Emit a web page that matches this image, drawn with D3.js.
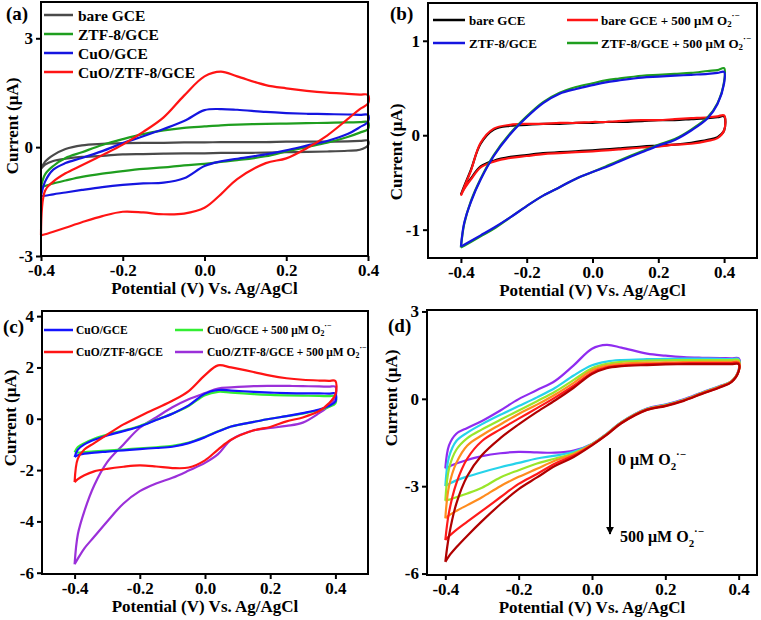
<!DOCTYPE html>
<html><head><meta charset="utf-8">
<script src="https://cdn.jsdelivr.net/npm/d3@7"></script>
<style>
body{margin:0;background:#fff}
text{font-family:"Liberation Serif","Times New Roman","DejaVu Serif",serif;font-weight:bold;fill:#000}
</style>
</head><body>
<svg id="fig" width="761" height="620"></svg>
<script>
// ---------------- DATA ----------------
// common potential grid (V vs Ag/AgCl); forward (anodic) and reverse (cathodic) branches
const potential = [-0.4,-0.39,-0.37,-0.34,-0.3,-0.25,-0.2,-0.15,-0.1,-0.05,0,0.04,0.08,0.15,0.2,0.25,0.3,0.35,0.38,0.4];
const xTickValues = [-0.4,-0.2,0,0.2,0.4];
const xTickLabels = ["-0.4","-0.2","0.0","0.2","0.4"];

// panel (a)
const aLabels = ["bare GCE","ZTF-8/GCE","CuO/GCE","CuO/ZTF-8/GCE"];
const aBareFwd = [-0.6,-0.4,-0.22,-0.05,0.05,0.09,0.11,0.12,0.12,0.13,0.13,0.14,0.14,0.14,0.15,0.15,0.15,0.16,0.17,0.18];
const aBareRev = [-0.6,-0.48,-0.38,-0.32,-0.27,-0.24,-0.2,-0.19,-0.18,-0.17,-0.17,-0.16,-0.16,-0.15,-0.14,-0.13,-0.12,-0.1,-0.07,0.05];
const aZtfFwd = [-1.1,-0.75,-0.52,-0.3,-0.14,0.06,0.22,0.36,0.46,0.53,0.57,0.6,0.62,0.64,0.65,0.66,0.67,0.68,0.69,0.69];
const aZtfRev = [-1.1,-1.07,-1.0,-0.92,-0.82,-0.73,-0.66,-0.6,-0.56,-0.5,-0.46,-0.41,-0.36,-0.25,-0.12,0.0,0.12,0.28,0.4,0.5];
const aCuoFwd = [-1.35,-0.95,-0.62,-0.44,-0.3,-0.11,0.11,0.3,0.5,0.72,1.02,1.05,1.03,0.97,0.94,0.92,0.91,0.9,0.89,0.89];
const aCuoRev = [-1.35,-1.34,-1.3,-1.25,-1.18,-1.1,-1.04,-1.0,-0.98,-0.86,-0.52,-0.39,-0.32,-0.2,-0.09,0.04,0.17,0.36,0.55,0.7];
const aCuoZtfFwd = [-2.43,-1.2,-0.95,-0.72,-0.5,-0.22,0.07,0.42,0.82,1.42,1.95,2.08,1.95,1.71,1.62,1.55,1.5,1.47,1.45,1.44];
const aCuoZtfRev = [-2.43,-2.4,-2.33,-2.22,-2.07,-1.9,-1.78,-1.8,-1.85,-1.83,-1.67,-1.3,-0.88,-0.44,-0.31,-0.03,0.32,0.77,1.05,1.2];
const aYTicks = [-3,0,3];

// panel (b)
const bLabels = ["bare GCE","bare GCE + 500 μM O₂·⁻","ZTF-8/GCE","ZTF-8/GCE + 500 μM O₂·⁻"];
const bBareFwd = [-0.63,-0.54,-0.37,-0.09,0.06,0.1,0.11,0.12,0.12,0.13,0.13,0.14,0.14,0.15,0.16,0.16,0.17,0.18,0.19,0.2];
const bBareRev = [-0.63,-0.56,-0.46,-0.33,-0.27,-0.23,-0.21,-0.19,-0.18,-0.17,-0.16,-0.15,-0.14,-0.12,-0.11,-0.1,-0.08,-0.05,-0.02,0.05];
const bBareO2Fwd = [-0.64,-0.55,-0.38,-0.08,0.07,0.11,0.12,0.12,0.13,0.13,0.14,0.14,0.15,0.16,0.16,0.17,0.18,0.19,0.2,0.21];
const bBareO2Rev = [-0.64,-0.57,-0.47,-0.34,-0.28,-0.24,-0.22,-0.2,-0.19,-0.18,-0.17,-0.16,-0.15,-0.13,-0.12,-0.1,-0.09,-0.06,-0.03,0.05];
const bZtfFwd = [-1.18,-0.93,-0.71,-0.47,-0.22,0.01,0.19,0.34,0.44,0.49,0.53,0.56,0.58,0.61,0.62,0.63,0.64,0.65,0.66,0.67];
const bZtfRev = [-1.18,-1.16,-1.12,-1.06,-0.98,-0.87,-0.75,-0.64,-0.55,-0.46,-0.39,-0.34,-0.28,-0.18,-0.11,-0.05,0.05,0.18,0.33,0.55];
const bZtfO2Fwd = [-1.19,-0.94,-0.7,-0.46,-0.21,0.02,0.2,0.35,0.45,0.51,0.55,0.58,0.6,0.63,0.64,0.65,0.66,0.68,0.69,0.71];
const bZtfO2Rev = [-1.19,-1.17,-1.13,-1.07,-0.99,-0.87,-0.75,-0.64,-0.55,-0.46,-0.39,-0.33,-0.27,-0.17,-0.1,-0.04,0.06,0.19,0.34,0.57];
const bYTicks = [-1,0,1];

// panel (c)
const cLabels = ["CuO/GCE","CuO/GCE + 500 μM O₂·⁻","CuO/ZTF-8/GCE","CuO/ZTF-8/GCE + 500 μM O₂·⁻"];
const cCuoFwd = [-1.49,-1.2,-1.0,-0.82,-0.65,-0.48,-0.3,-0.05,0.2,0.52,0.98,1.12,1.1,1.05,1.02,1.0,0.99,0.99,0.98,0.98];
const cCuoRev = [-1.49,-1.42,-1.36,-1.32,-1.28,-1.23,-1.18,-1.14,-1.09,-0.95,-0.72,-0.5,-0.3,-0.12,0.0,0.1,0.22,0.36,0.5,0.67];
const cCuoO2Fwd = [-1.3,-1.1,-0.95,-0.78,-0.62,-0.46,-0.28,-0.04,0.2,0.5,0.92,1.05,1.02,0.96,0.93,0.91,0.9,0.89,0.88,0.88];
const cCuoO2Rev = [-1.3,-1.32,-1.3,-1.27,-1.24,-1.2,-1.15,-1.11,-1.06,-0.93,-0.7,-0.49,-0.3,-0.12,0.0,0.1,0.2,0.34,0.46,0.6];
const cCuoZtfFwd = [-2.47,-1.55,-1.2,-0.95,-0.62,-0.22,0.1,0.4,0.7,1.08,1.7,2.08,2.0,1.82,1.68,1.58,1.52,1.49,1.48,1.47];
const cCuoZtfRev = [-2.47,-2.35,-2.2,-2.05,-1.95,-1.87,-1.82,-1.86,-1.92,-1.9,-1.62,-1.2,-0.82,-0.45,-0.32,-0.1,0.05,0.3,0.6,0.95];
const cCuoZtfO2Fwd = [-5.67,-4.5,-3.6,-2.6,-1.69,-1.0,-0.35,0.05,0.45,0.76,1.0,1.18,1.22,1.27,1.28,1.28,1.27,1.26,1.25,1.25];
const cCuoZtfO2Rev = [-5.67,-5.45,-5.05,-4.6,-4.0,-3.3,-2.82,-2.52,-2.3,-2.02,-1.72,-1.38,-0.82,-0.45,-0.36,-0.28,-0.15,0.22,0.5,0.85];
const cYTicks = [-6,-4,-2,0,2,4];

// panel (d): 0 → 500 μM O2·−
const dConcLabels = ["0 μM O₂·⁻","500 μM O₂·⁻"];
const d0Fwd = [-2.39,-1.6,-1.2,-1.0,-0.76,-0.4,-0.01,0.3,0.62,1.15,1.72,1.85,1.76,1.55,1.48,1.43,1.41,1.4,1.39,1.39];
const d0Rev = [-2.39,-2.33,-2.22,-2.1,-1.97,-1.87,-1.82,-1.84,-1.85,-1.78,-1.55,-1.2,-0.8,-0.33,-0.2,-0.02,0.22,0.45,0.6,1.0];
const d100Fwd = [-3.0,-2.0,-1.45,-1.16,-0.87,-0.55,-0.25,0.05,0.38,0.8,1.15,1.28,1.33,1.36,1.37,1.38,1.38,1.37,1.36,1.36];
const d100Rev = [-3.0,-2.92,-2.8,-2.67,-2.52,-2.35,-2.2,-2.05,-1.95,-1.82,-1.55,-1.2,-0.8,-0.34,-0.21,-0.03,0.21,0.44,0.6,0.98];
const d200Fwd = [-3.5,-2.4,-1.75,-1.35,-1.05,-0.72,-0.4,-0.08,0.25,0.65,1.05,1.2,1.27,1.31,1.32,1.33,1.33,1.33,1.33,1.33];
const d200Rev = [-3.5,-3.46,-3.38,-3.25,-3.05,-2.7,-2.45,-2.22,-2.05,-1.87,-1.56,-1.21,-0.81,-0.35,-0.22,-0.04,0.2,0.43,0.6,0.97];
const d300Fwd = [-4.1,-3.0,-2.2,-1.6,-1.25,-0.88,-0.52,-0.2,0.15,0.55,0.98,1.14,1.2,1.24,1.25,1.26,1.27,1.27,1.27,1.27];
const d300Rev = [-4.1,-4.0,-3.85,-3.65,-3.38,-3.0,-2.68,-2.4,-2.12,-1.9,-1.57,-1.22,-0.82,-0.36,-0.23,-0.05,0.19,0.42,0.59,0.96];
const d400Fwd = [-4.85,-3.9,-2.9,-2.05,-1.45,-1.05,-0.68,-0.32,0.05,0.45,0.9,1.08,1.14,1.19,1.21,1.22,1.23,1.23,1.23,1.23];
const d400Rev = [-4.85,-4.72,-4.5,-4.22,-3.85,-3.38,-2.92,-2.58,-2.22,-1.95,-1.58,-1.23,-0.83,-0.37,-0.24,-0.06,0.18,0.41,0.58,0.95];
const d500Fwd = [-5.6,-4.7,-3.6,-2.65,-1.93,-1.35,-0.88,-0.45,-0.05,0.38,0.85,1.05,1.12,1.16,1.18,1.19,1.19,1.19,1.19,1.19];
const d500Rev = [-5.6,-5.4,-5.1,-4.7,-4.2,-3.62,-3.1,-2.7,-2.3,-2.0,-1.6,-1.24,-0.84,-0.38,-0.25,-0.07,0.17,0.4,0.57,0.94];
const dYTicks = [-6,-3,0,3];

// ---------------- LAYOUT / STYLE ----------------
const svg = d3.select("#fig");
const FONT_TICK = 17, FONT_TITLE = 17;

const panels = [
  {id:"(a)", box:{l:41,r:368,t:2,b:256}, xd:[-0.4,0.4], yd:[-3,4], yTicks:aYTicks,
   labelPos:[6,20], yTitleX:12, yTitleY:126,
   series:[
     {f:aBareFwd,r:aBareRev,c:"#4a4a4a"},
     {f:aZtfFwd,r:aZtfRev,c:"#1f9e1f"},
     {f:aCuoFwd,r:aCuoRev,c:"#1515e0"},
     {f:aCuoZtfFwd,r:aCuoZtfRev,c:"#ff1414"}],
   legend:{font:15.5, rows:[15,34,53,72], items:[
     {label:aLabels[0],c:"#4a4a4a",x1:44,x2:73,tx:78,row:0},
     {label:aLabels[1],c:"#1f9e1f",x1:44,x2:73,tx:78,row:1},
     {label:aLabels[2],c:"#1515e0",x1:44,x2:73,tx:78,row:2},
     {label:aLabels[3],c:"#ff1414",x1:44,x2:73,tx:78,row:3}]}},
  {id:"(b)", box:{l:428,r:757,t:3,b:258}, xd:[-0.5,0.5], yd:[-1.3,1.4], yTicks:bYTicks,
   labelPos:[390,20], yTitleX:396, yTitleY:152,
   series:[
     {f:bBareFwd,r:bBareRev,c:"#000000"},
     {f:bBareO2Fwd,r:bBareO2Rev,c:"#ff1414"},
     {f:bZtfO2Fwd,r:bZtfO2Rev,c:"#1f9e1f"},
     {f:bZtfFwd,r:bZtfRev,c:"#1515e0"}],
   legend:{font:13, rows:[20,43], items:[
     {label:bLabels[0],c:"#000000",x1:433,x2:465,tx:469,row:0},
     {label:bLabels[1],c:"#ff1414",x1:567,x2:598,tx:601,row:0},
     {label:bLabels[2],c:"#1515e0",x1:433,x2:465,tx:469,row:1},
     {label:bLabels[3],c:"#1f9e1f",x1:567,x2:598,tx:601,row:1}]}},
  {id:"(c)", box:{l:42,r:368,t:311,b:574}, xd:[-0.5,0.5], yd:[-6.05,4.2], yTicks:cYTicks,
   labelPos:[3,333], yTitleX:10, yTitleY:418,
   series:[
     {f:cCuoZtfO2Fwd,r:cCuoZtfO2Rev,c:"#9b30d9"},
     {f:cCuoO2Fwd,r:cCuoO2Rev,c:"#33ee33"},
     {f:cCuoFwd,r:cCuoRev,c:"#1414ff"},
     {f:cCuoZtfFwd,r:cCuoZtfRev,c:"#ff1414"}],
   legend:{font:11.5, rows:[330,352], items:[
     {label:cLabels[0],c:"#1414ff",x1:44,x2:73,tx:76,row:0},
     {label:cLabels[1],c:"#33ee33",x1:175,x2:203,tx:207,row:0},
     {label:cLabels[2],c:"#ff1414",x1:44,x2:73,tx:76,row:1},
     {label:cLabels[3],c:"#9b30d9",x1:175,x2:203,tx:207,row:1}]}},
  {id:"(d)", box:{l:427,r:757,t:310,b:575}, xd:[-0.45,0.45], yd:[-6.05,3.05], yTicks:dYTicks,
   labelPos:[388,332], yTitleX:391, yTitleY:398,
   series:[
     {f:d0Fwd,r:d0Rev,c:"#8f2cf0"},
     {f:d100Fwd,r:d100Rev,c:"#26d3ea"},
     {f:d200Fwd,r:d200Rev,c:"#9ae62a"},
     {f:d300Fwd,r:d300Rev,c:"#ff8c1e"},
     {f:d400Fwd,r:d400Rev,c:"#ff1a1a"},
     {f:d500Fwd,r:d500Rev,c:"#b00000"}],
   legend:null}
];

// writes label text, turning "O₂·⁻" into O with subscript 2 and superscript ·−
function richText(sel, label, fs){
  const parts = label.split("O₂·⁻");
  sel.attr("font-size", fs);
  sel.append("tspan").text(parts[0] + (parts.length > 1 ? "O" : ""));
  if (parts.length > 1){
    sel.append("tspan").attr("font-size", fs*0.68).attr("dy", fs*0.3).text("2");
    sel.append("tspan").attr("font-size", fs*0.68).attr("dy", -fs*0.72).text("·−");
  }
}

panels.forEach(p => {
  const B = p.box;
  const x = d3.scaleLinear().domain(p.xd).range([B.l, B.r]);
  const y = d3.scaleLinear().domain(p.yd).range([B.b, B.t]);
  const g = svg.append("g");

  // curves
  const line = d3.line().x(d => x(d[0])).y(d => y(d[1])).curve(d3.curveCatmullRom.alpha(0.5));
  p.series.forEach(s => {
    const pts = potential.map((e,i) => [e, s.f[i]]);
    for (let i = potential.length - 1; i >= 0; i--) pts.push([potential[i], s.r[i]]);
    g.append("path").attr("d", line(pts)).attr("fill","none")
      .attr("stroke", s.c).attr("stroke-width", 2.2).attr("stroke-linejoin","round");
  });

  // frame
  g.append("rect").attr("x",B.l).attr("y",B.t).attr("width",B.r-B.l).attr("height",B.b-B.t)
    .attr("fill","none").attr("stroke","#000").attr("stroke-width",2);

  // axes
  const xa = g.append("g").attr("transform",`translate(0,${B.b})`)
    .call(d3.axisBottom(x).tickValues(xTickValues).tickSize(5).tickPadding(3)
      .tickFormat((d,i) => xTickLabels[i]));
  const ya = g.append("g").attr("transform",`translate(${B.l},0)`)
    .call(d3.axisLeft(y).tickValues(p.yTicks).tickSize(5).tickPadding(3).tickFormat(d => String(d)));
  [xa, ya].forEach(a => {
    a.attr("font-family", null);
    a.select(".domain").remove();
    a.selectAll(".tick line").attr("stroke","#000").attr("stroke-width",2);
    a.selectAll(".tick text").attr("font-size",FONT_TICK).attr("fill","#000");
  });

  // titles
  g.append("text").attr("x",(B.l+B.r)/2).attr("y",B.b+38).attr("text-anchor","middle")
    .attr("font-size",FONT_TITLE).text("Potential (V) Vs. Ag/AgCl");
  g.append("text").attr("transform",`translate(${p.yTitleX},${p.yTitleY}) rotate(-90)`)
    .attr("text-anchor","middle").attr("dominant-baseline","central")
    .attr("font-size",FONT_TITLE).text("Current (μA)");
  g.append("text").attr("x",p.labelPos[0]).attr("y",p.labelPos[1]).attr("font-size",19).text(p.id);

  // legend
  if (p.legend){
    p.legend.items.forEach(it => {
      const yy = p.legend.rows[it.row];
      g.append("line").attr("x1",it.x1).attr("x2",it.x2).attr("y1",yy).attr("y2",yy)
        .attr("stroke",it.c).attr("stroke-width",2.5);
      const t = g.append("text").attr("x",it.tx).attr("y",yy).attr("dominant-baseline","central");
      richText(t, it.label, p.legend.font);
    });
  }

  // annotation in (d)
  if (p.id === "(d)"){
    const ax = 610;
    const defs = svg.append("defs");
    defs.append("marker").attr("id","arr").attr("viewBox","0 0 10 10").attr("refX",9).attr("refY",5)
      .attr("markerWidth",4).attr("markerHeight",5).attr("orient","auto")
      .append("path").attr("d","M0,0L10,5L0,10Z").attr("fill","#000");
    g.append("line").attr("x1",ax).attr("x2",ax).attr("y1",448).attr("y2",534)
      .attr("stroke","#000").attr("stroke-width",2).attr("marker-end","url(#arr)");
    const t1 = g.append("text").attr("x",618).attr("y",465);
    richText(t1, dConcLabels[0], 16);
    const t2 = g.append("text").attr("x",620).attr("y",542);
    richText(t2, dConcLabels[1], 16);
  }
});
</script>
</body></html>
